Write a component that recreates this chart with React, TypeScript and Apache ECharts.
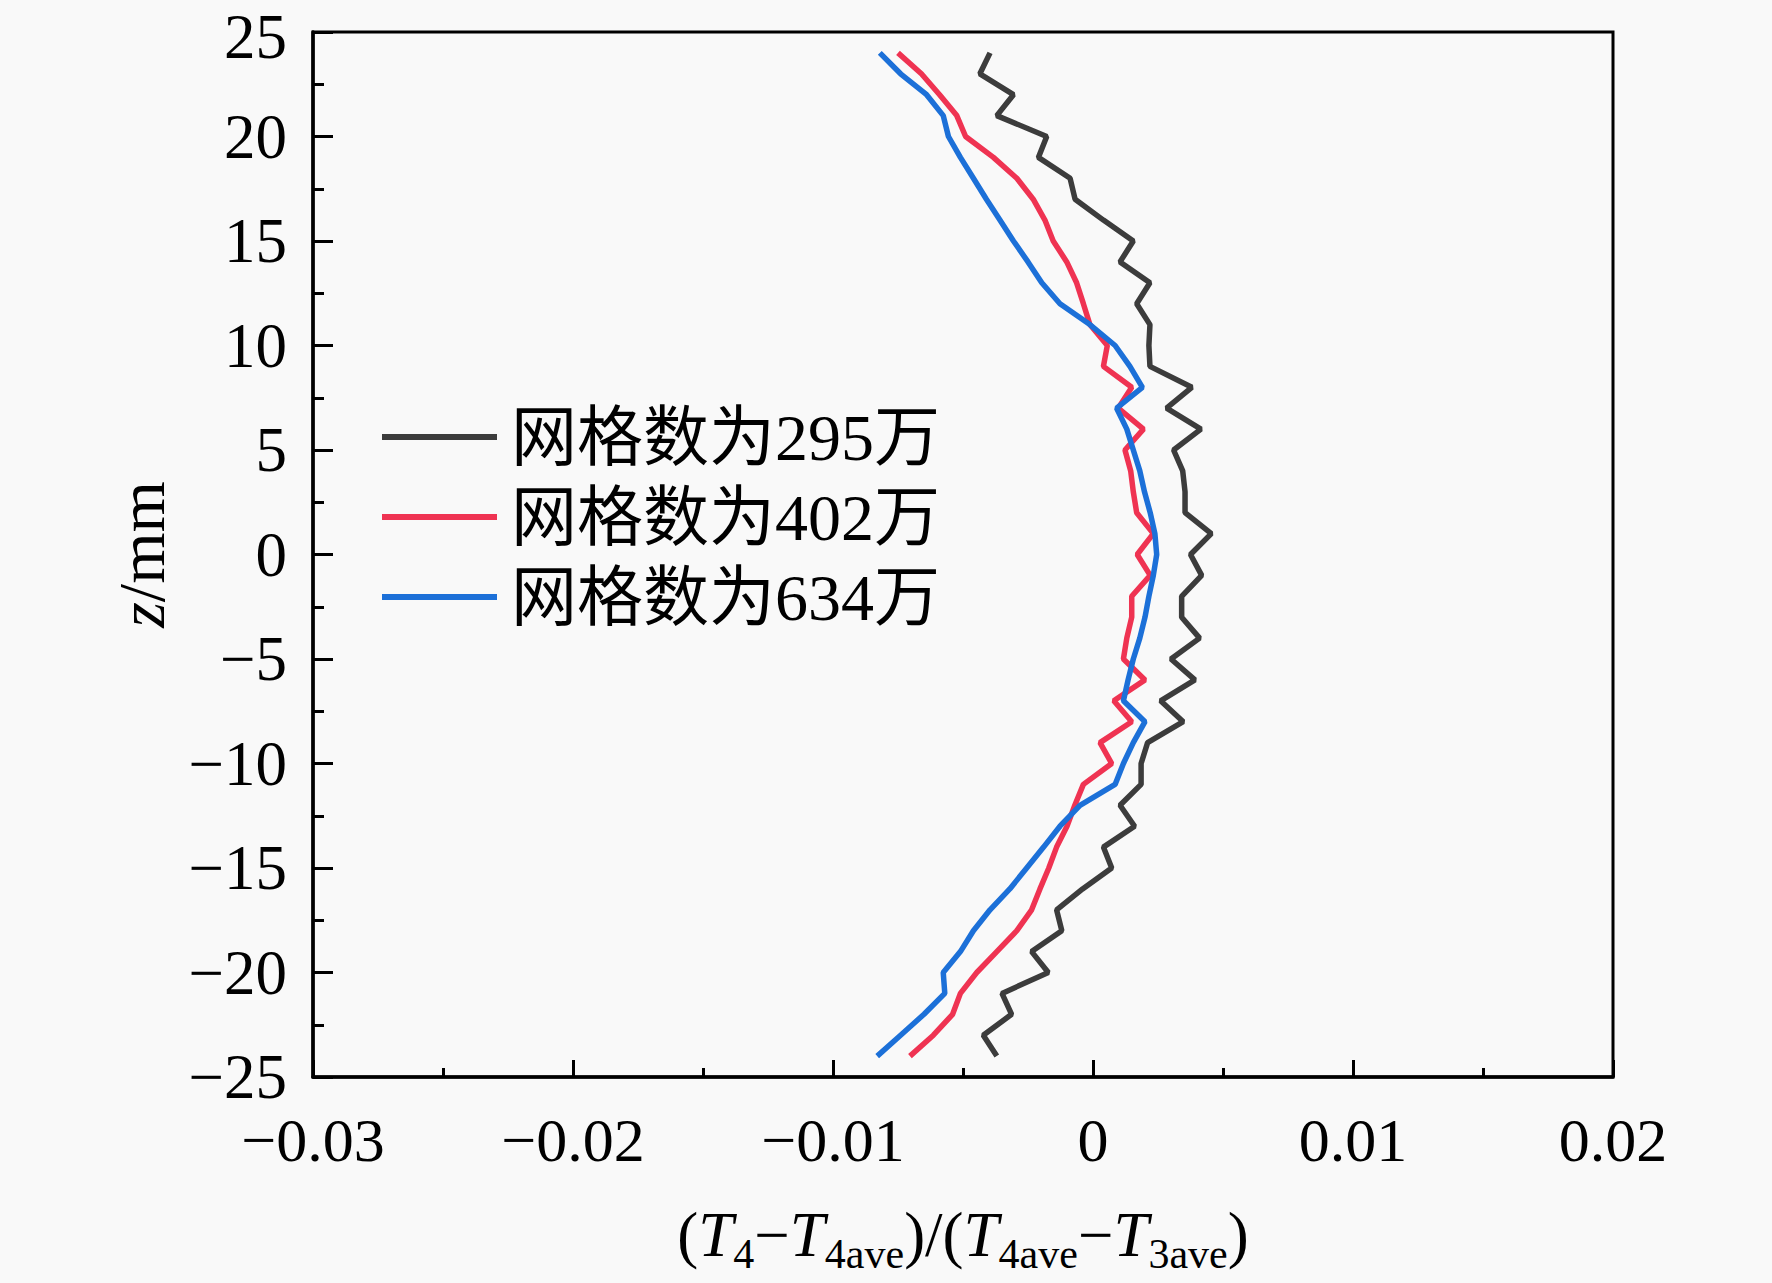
import React, { useEffect, useRef } from "react";
import * as echarts from "echarts";

// z positions (mm), top to bottom
const zValues = [
  24, 23, 22, 21, 20, 19, 18, 17, 16, 15, 14, 13, 12, 11, 10, 9, 8, 7, 6, 5, 4, 3, 2, 1, 0,
  -1, -2, -3, -4, -5, -6, -7, -8, -9, -10, -11, -12, -13, -14, -15, -16, -17, -18, -19, -20,
  -21, -22, -23, -24,
];

// 网格数为295万
const mesh295 = [
  -0.00396, -0.00435, -0.00306, -0.0037, -0.00178, -0.0021, -0.00088, -0.00069, 0.0004,
  0.00155, 0.00104, 0.00219, 0.00168, 0.00219, 0.00215, 0.00219, 0.0038, 0.00283, 0.00415,
  0.0031, 0.00345, 0.00354, 0.00354, 0.00455, 0.00375, 0.00418, 0.00341, 0.00341, 0.0041,
  0.003, 0.00392, 0.0026, 0.00347, 0.0021, 0.00185, 0.00185, 0.00104, 0.0016, 0.0004,
  0.00072, -0.0004, -0.0014, -0.0012, -0.00236, -0.00172, -0.0035, -0.00313, -0.00422,
  -0.0037,
];

// 网格数为402万
const mesh402 = [
  -0.0075, -0.0066, -0.0059, -0.00524, -0.0049, -0.00383, -0.00293, -0.0023, -0.00185,
  -0.00153, -0.00101, -0.00063, -0.00037, -0.00012, 0.00055, 0.0004, 0.00149, 0.00097,
  0.00194, 0.00123, 0.00145, 0.00155, 0.00168, 0.00232, 0.0017, 0.0022, 0.00149, 0.00149,
  0.0013, 0.00117, 0.002, 0.0008, 0.00149, 0.00027, 0.00072, -0.00037, -0.0007, -0.001,
  -0.0014, -0.0017, -0.00204, -0.00236, -0.00293, -0.0037, -0.00447, -0.0051, -0.0054,
  -0.00614, -0.00704,
];

// 网格数为634万
const mesh634 = [
  -0.0082, -0.0074, -0.0064, -0.00576, -0.00556, -0.0051, -0.0046, -0.0041, -0.00358,
  -0.00306, -0.0025, -0.00197, -0.00127, -0.00012, 0.00085, 0.00142, 0.0019, 0.00091,
  0.0013, 0.00155, 0.0018, 0.00198, 0.0022, 0.00238, 0.00245, 0.00232, 0.00215, 0.002,
  0.0018, 0.00155, 0.00135, 0.00117, 0.002, 0.00155, 0.00117, 0.00085, -0.0005, -0.00127,
  -0.0019, -0.00255, -0.0032, -0.00396, -0.0046, -0.0051, -0.00576, -0.0057, -0.0065,
  -0.0074, -0.0083,
];

const seriesNames = ["网格数为295万", "网格数为402万", "网格数为634万"];
const seriesColors = ["#3c3c3c", "#ef3352", "#1c70d8"];

const serif = "'Liberation Serif', 'Times New Roman', 'Noto Sans CJK SC', serif";

const minus = (s: string) => s.replace("-", "\u2212");

const ZProfile: React.FC = () => {
  const chartRef = useRef<HTMLDivElement | null>(null);

  useEffect(() => {
    if (!chartRef.current) return;
    const chart = echarts.init(chartRef.current, undefined, { renderer: "svg" });

    const toPairs = (xs: number[]) => xs.map((x, i) => [x, zValues[i]]);
    const allSeries = [mesh295, mesh402, mesh634];

    const option = {
      animation: false,
      backgroundColor: "#f9f9f9",
      grid: {
        left: 313,
        width: 1300,
        top: 32,
        height: 1045,
        outerBoundsMode: "none",
        show: true,
        borderColor: "#000",
        borderWidth: 3,
        backgroundColor: "transparent",
      },
      legend: {
        orient: "vertical",
        left: 377,
        top: 396,
        icon: "rect",
        itemWidth: 115,
        itemHeight: 6,
        itemGap: 8,
        data: seriesNames,
        textStyle: {
          fontFamily: serif,
          fontSize: 66,
          lineHeight: 72,
          color: "#000",
          padding: [0, 0, 0, 9],
        },
      },
      xAxis: {
        type: "value",
        min: -0.03,
        max: 0.02,
        interval: 0.01,
        name: "{p|(}{i|T}{s|4}{p|\u2212}{i|T}{s|4ave}{p|)/(}{i|T}{s|4ave}{p|\u2212}{i|T}{s|3ave}{p|)}",
        nameLocation: "middle",
        nameGap: 118,
        nameTextStyle: {
          rich: {
            p: { fontFamily: serif, fontSize: 63, lineHeight: 80, color: "#000" },
            i: { fontFamily: serif, fontSize: 63, lineHeight: 80, fontStyle: "italic", color: "#000" },
            s: { fontFamily: serif, fontSize: 42, lineHeight: 42, verticalAlign: "bottom", color: "#000" },
          },
        },
        splitLine: { show: false },
        axisLine: { onZero: false, lineStyle: { color: "#000", width: 3.5 } },
        axisTick: { inside: true, length: 17, lineStyle: { color: "#000", width: 3 } },
        minorTick: { show: true, splitNumber: 2, length: 9, lineStyle: { color: "#000", width: 3 } },
        axisLabel: {
          margin: 32,
          fontFamily: serif,
          fontSize: 62,
          color: "#000",
          formatter: (v: number) => (Math.abs(v) < 1e-9 ? "0" : minus(v.toFixed(2))),
        },
      },
      yAxis: {
        type: "value",
        min: -25,
        max: 25,
        interval: 5,
        name: "{i|z}{n|/mm}",
        nameLocation: "middle",
        nameRotate: 90,
        nameGap: 139,
        nameTextStyle: {
          rich: {
            i: { fontFamily: serif, fontSize: 66, fontStyle: "italic", color: "#000" },
            n: { fontFamily: serif, fontSize: 66, color: "#000" },
          },
        },
        splitLine: { show: false },
        axisLine: { onZero: false, lineStyle: { color: "#000", width: 3.5 } },
        axisTick: { inside: true, length: 20, lineStyle: { color: "#000", width: 3 } },
        minorTick: { show: true, splitNumber: 2, length: 11, lineStyle: { color: "#000", width: 3 } },
        axisLabel: {
          margin: 26,
          fontFamily: serif,
          fontSize: 63,
          lineHeight: 50,
          color: "#000",
          formatter: (v: number) => (v === 25 ? "{t|25}" : minus(String(v))),
          rich: {
            t: { fontFamily: serif, fontSize: 63, lineHeight: 50, padding: [10, 0, 0, 0], color: "#000" },
          },
        },
      },
      series: allSeries.map((xs, k) => ({
        name: seriesNames[k],
        type: "line",
        data: toPairs(xs),
        symbol: "none",
        color: seriesColors[k],
        lineStyle: { color: seriesColors[k], width: 5.5 },
      })),
    };

    chart.setOption(option);

    return () => {
      chart.dispose();
    };
  }, []);

  return (
    <div
      ref={chartRef}
      style={{
        position: "fixed",
        left: 0,
        top: 0,
        width: "1772px",
        height: "1283px",
      }}
    />
  );
};

export default function App() {
  return <ZProfile />;
}
